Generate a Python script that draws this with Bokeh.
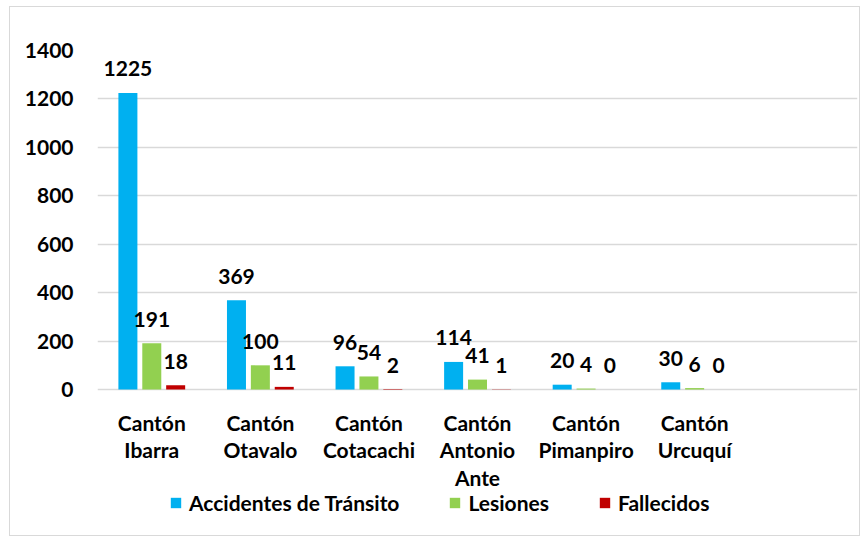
from bokeh.plotting import figure
from bokeh.models import ColumnDataSource, FactorRange, Legend, LegendItem
from bokeh.transform import dodge
from bokeh.core.properties import value
from bokeh.embed import file_html
from bokeh.resources import INLINE

categories = ["Cantón\nIbarra", "Cantón\nOtavalo", "Cantón\nCotacachi",
              "Cantón\nAntonio\nAnte", "Cantón\nPimanpiro", "Cantón\nUrcuquí"]
accidentes = [1225, 369, 96, 114, 20, 30]
lesiones = [191, 100, 54, 41, 4, 6]
fallecidos = [18, 11, 2, 1, 0, 0]
y_ticks = [0, 200, 400, 600, 800, 1000, 1200, 1400]

factors = categories + [" "]
FONT = "Lato"
FS = "21px"

src = ColumnDataSource(dict(
    cat=categories,
    base=[0] * len(categories),
    acc=accidentes, les=lesiones, fal=fallecidos,
    acc_t=[str(v) for v in accidentes],
    les_t=[str(v) for v in lesiones],
    fal_t=[str(v) for v in fallecidos],
))

# frame runs to the bottom of the canvas; the band below 0 holds the
# category labels and the legend
p = figure(x_range=FactorRange(*factors, range_padding=0), y_range=(-611, 1400),
           width=851, height=530, output_backend="svg", toolbar_location=None,
           min_border_left=87, min_border_right=4, min_border_top=43, min_border_bottom=0)
p.margin = (6, 0, 0, 9)
p.styles = {"border": "1px solid #D9D9D9"}
p.outline_line_color = None
p.xaxis.visible = False

series = [("acc", "Accidentes de Tránsito", "#00B0F0", -0.22),
          ("les", "Lesiones", "#92D050", 0.0),
          ("fal", "Fallecidos", "#C00000", 0.22)]

items = []
for col, name, color, off in series:
    r = p.vbar(x=dodge("cat", off, range=p.x_range), top=col, width=0.175,
               source=src, color=color, line_color=None)
    items.append(LegendItem(label=name, renderers=[r]))
    p.text(x=dodge("cat", off, range=p.x_range), y=col, text=col + "_t", source=src,
           text_font=value(FONT), text_font_style="bold", text_font_size=FS,
           text_color="#000000", text_align="center", text_baseline="middle", y_offset=-24)

# category labels
p.text(x="cat", y="base", text="cat", source=src, text_font=value(FONT),
       text_font_style="bold", text_font_size=FS, text_color="#000000",
       text_align="center", text_baseline="top", y_offset=20, text_line_height=1.1)

legend = Legend(items=items, orientation="horizontal", location=(72, 22),
                glyph_width=13, glyph_height=13, label_standoff=7, spacing=49,
                padding=0, margin=0, border_line_color=None, background_fill_alpha=0,
                label_text_font=FONT, label_text_font_style="bold",
                label_text_font_size=FS, label_text_color="#000000")
p.add_layout(legend, "center")

p.yaxis.ticker = y_ticks
p.yaxis.axis_line_color = None
p.yaxis.major_tick_line_color = None
p.yaxis.minor_tick_line_color = None
p.yaxis.major_label_standoff = 18
p.yaxis.major_label_text_font = FONT
p.yaxis.major_label_text_font_style = "bold"
p.yaxis.major_label_text_font_size = FS
p.yaxis.major_label_text_color = "#000000"

p.xgrid.grid_line_color = None
p.ygrid.ticker = y_ticks
p.ygrid.grid_line_color = "#D9D9D9"
p.ygrid.grid_line_width = 1.5

open("out.html", "w").write(file_html(p, INLINE))
